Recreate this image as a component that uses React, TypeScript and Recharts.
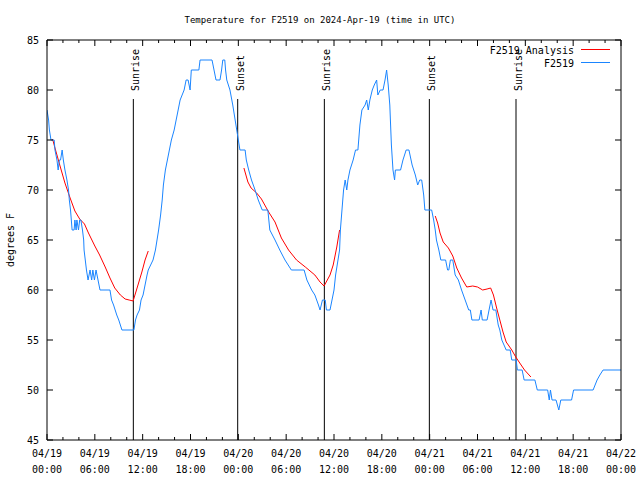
import { Legend, Line, LineChart, ReferenceLine, XAxis, YAxis } from "recharts";

// hours since 2024-04-19 00:00 UTC
const stationHours = [
  0, 0.2, 0.3, 0.5, 0.9, 1.0, 1.25, 1.4, 1.55, 1.7, 1.9, 2.05, 2.25, 2.5, 2.7, 2.8, 2.95, 3.05, 3.15, 3.4,
  3.5, 3.65, 3.75, 3.95, 4.1, 4.25, 4.45, 4.6, 4.65, 4.8, 4.95, 5.15, 5.4, 5.6, 5.75, 5.95, 6.15, 6.4, 6.65, 7.9,
  8.1, 8.35, 8.55, 8.75, 9.0, 9.2, 9.4, 10.9, 11.1, 11.3, 11.6, 11.8, 12.05, 12.3, 12.55, 12.7, 13.0, 13.3, 13.6, 13.8,
  14.0, 14.25, 14.45, 14.6, 14.85, 15.1, 15.35, 15.6, 15.95, 16.2, 16.45, 16.7, 16.95, 17.2, 17.45, 17.7, 17.95, 18.1, 19.05, 19.2,
  20.7, 20.95, 21.2, 21.7, 21.9, 22.05, 22.3, 22.4, 22.55, 22.95, 23.3, 23.6, 23.8, 24.0, 24.2, 24.85, 25.0, 25.3, 25.65, 26.1,
  26.5, 27.0, 27.7, 27.95, 28.6, 29.2, 29.85, 30.65, 32.25, 32.6, 33.2, 33.6, 34.05, 34.25, 34.55, 34.9, 35.05, 35.5, 35.75, 36.0,
  36.2, 36.5, 36.7, 36.8, 37.0, 37.2, 37.4, 37.6, 37.75, 38.0, 38.4, 38.7, 39.0, 39.25, 39.5, 39.9, 40.1, 40.3, 40.5, 40.8,
  41.05, 41.35, 41.5, 41.8, 42.15, 42.4, 42.6, 42.8, 43.0, 43.2, 43.4, 43.6, 43.7, 44.35, 44.65, 45.05, 45.4, 45.8, 46.2, 46.5,
  46.75, 47.0, 47.25, 47.4, 48.25, 48.5, 48.7, 48.85, 49.15, 49.4, 50.0, 50.25, 50.4, 50.6, 50.9, 51.2, 51.6, 52.0, 52.45, 52.9,
  53.1, 53.3, 54.2, 54.45, 54.6, 55.2, 55.45, 55.7, 55.95, 56.3, 56.6, 56.8, 57.05, 57.6, 58.1, 58.3, 58.85, 59.0, 59.6, 59.85,
  61.2, 61.5, 62.8, 63.0, 63.15, 63.35, 63.85, 64.2, 64.45, 65.8, 66.05, 68.5, 68.75, 69.0, 69.35, 69.75, 72,
];
const stationTemps = [
  78, 77, 76, 75, 75, 74, 73, 72, 73, 73, 74, 73, 72, 71, 70, 69, 68, 67, 66, 66,
  67, 66, 67, 66, 67, 67, 66, 65, 64, 63, 62, 61, 62, 61, 62, 61, 62, 61, 60, 60,
  59, 58.5, 58, 57.5, 57, 56.5, 56, 56, 57, 57.5, 58, 59, 59.5, 60.5, 61.5, 62, 62.5, 63, 64, 65,
  66, 67.5, 69, 70.5, 72, 73, 74, 75, 76, 77, 78, 79, 79.5, 80, 81, 81, 80, 82, 82, 83,
  83, 82, 81, 81, 82, 83, 83, 82, 81, 80, 78.5, 77, 76, 75, 74, 74, 73, 72, 71, 70,
  69, 68, 68, 66, 65, 64, 63, 62, 62, 61, 60, 59.5, 58.5, 58, 59, 59, 58, 58, 59, 60,
  61.5, 63, 64, 66, 68, 70, 71, 70, 71, 72, 73, 74, 74, 76.5, 78, 78.5, 79, 78, 79, 80,
  80.5, 81, 79.5, 80, 80, 81, 82, 80.5, 78.5, 74.5, 72, 71, 72, 72, 73, 74, 74, 72.5, 71.5, 70.5,
  71, 71, 69.5, 68, 68, 67, 66, 65, 64, 63, 63, 62, 62, 63, 63, 61.5, 61, 60, 59, 58,
  58, 57, 57, 58, 57, 57, 58, 59, 58, 58, 56.5, 56, 55, 54, 54, 53, 53, 52, 52, 51,
  51, 50, 50, 49, 50, 49, 49, 48, 49, 49, 50, 50, 50.5, 51, 51.5, 52, 52,
];

// analysis runs, null marks a gap between runs
const analysisHours = [
  0.7, 1.0, 1.6, 2.25, 2.9, 3.5, 4.1, 4.7, 5.2, 6.0, 6.6, 7.3, 7.9, 8.5, 9.2, 9.8, 10.3, 10.8, 11.3, 11.9, 12.3, 12.7,
  18.0,
  24.7, 25.2, 25.6, 26.3, 26.9, 27.8, 28.6, 29.4, 30.3, 31.3, 32.4, 33.6, 34.25, 34.75, 35.5, 35.9, 36.35, 36.7,
  42.0,
  48.7, 49.0, 49.3, 49.7, 50.35, 50.9, 51.4, 52.0, 52.65, 53.4, 54.0, 54.65, 55.2, 55.65, 56.0, 56.4, 56.8, 57.2, 57.6,
  58.3, 58.8, 59.3, 59.9, 60.7,
];
const analysisTemps = [
  75.1, 74.2, 72.5, 70.7, 69.2, 67.9, 67.1, 66.6, 65.7, 64.4, 63.5, 62.3, 61.2, 60.2, 59.5, 59.1, 59.0, 58.9, 60.2, 61.8, 63.0, 63.9,
  null,
  72.2, 70.8, 70.2, 69.7, 69.1, 67.8, 66.8, 65.2, 64.0, 63.0, 62.3, 61.5, 60.8, 60.4, 61.5, 62.5, 64.3, 66.0,
  null,
  67.4, 66.7, 65.7, 64.8, 64.2, 63.4, 62.2, 61.2, 60.3, 60.4, 60.3, 60.0, 60.1, 60.2, 59.5, 58.2, 57.0, 55.8, 54.8,
  54.0, 53.3, 52.7, 52.0, 51.3,
];

const sunHours = [10.83, 23.92, 34.79, 47.96, 58.83];
const sunLabels = ["Sunrise", "Sunset", "Sunrise", "Sunset", "Sunrise"];

const xTicks = [
  0, 2, 4, 6, 8, 10, 12, 14, 16, 18, 20, 22, 24, 26, 28, 30, 32, 34, 36, 38, 40, 42, 44, 46, 48, 50, 52, 54, 56, 58, 60,
  62, 64, 66, 68, 70, 72,
];
const yTicks = [45, 50, 55, 60, 65, 70, 75, 80, 85];

const legendOrder = ["F2519 Analysis", "F2519"];

const stationData = stationHours.map((hour, i) => ({ hour, temp: stationTemps[i] }));
const analysisData = analysisHours.map((hour, i) => ({ hour, temp: analysisTemps[i] }));

const FONT = "'DejaVu Sans Mono', monospace";
const pad = (n: number) => String(n).padStart(2, "0");

function BottomTick({ x, y, payload }: any) {
  const h = payload.value;
  const major = h % 6 === 0;
  return (
    <g>
      <line x1={x} x2={x} y1={y} y2={y - (major ? 6 : 3)} stroke="#000" />
      {major && (
        <text x={x} y={y + 17} textAnchor="middle" fontSize={10} fontFamily={FONT} fill="#000">
          {`04/${19 + Math.floor(h / 24)}`}
        </text>
      )}
      {major && (
        <text x={x} y={y + 33} textAnchor="middle" fontSize={10} fontFamily={FONT} fill="#000">
          {`${pad(h % 24)}:00`}
        </text>
      )}
    </g>
  );
}

function TopTick({ x, y, payload }: any) {
  const major = payload.value % 6 === 0;
  return <line x1={x} x2={x} y1={y} y2={y + (major ? 6 : 3)} stroke="#000" />;
}

function LeftTick({ x, y, payload }: any) {
  return (
    <g>
      <line x1={x} x2={x + 6} y1={y} y2={y} stroke="#000" />
      <text x={x - 8} y={y} dy="0.35em" textAnchor="end" fontSize={10} fontFamily={FONT} fill="#000">
        {payload.value}
      </text>
    </g>
  );
}

function RightTick({ x, y }: any) {
  return <line x1={x} x2={x - 6} y1={y} y2={y} stroke="#000" />;
}

function SunLabel({ viewBox, text }: any) {
  return (
    <text
      transform={`translate(${viewBox.x + 6},${viewBox.y - 8}) rotate(-90)`}
      fontSize={10}
      fontFamily={FONT}
      fill="#000"
    >
      {text}
    </text>
  );
}

function LegendBox({ payload }: any) {
  const items = [...(payload || [])].sort(
    (a: any, b: any) => legendOrder.indexOf(a.value) - legendOrder.indexOf(b.value),
  );
  return (
    <svg width={180} height={32}>
      {items.map((p: any, i: number) => (
        <g key={p.value}>
          <text x={134} y={14 + i * 12.5} textAnchor="end" fontSize={10} fontFamily={FONT} fill="#000">
            {p.value}
          </text>
          <line x1={141} x2={170} y1={9.5 + i * 13} y2={9.5 + i * 13} stroke={p.color} />
        </g>
      ))}
    </svg>
  );
}

export default function App() {
  return (
    <div style={{ position: "absolute", left: 0, top: 0, width: 640, height: 480, background: "#fff" }}>
      <div
        style={{
          position: "absolute",
          top: 15,
          width: 640,
          textAlign: "center",
          fontFamily: FONT,
          fontSize: 9,
          lineHeight: "11px",
          color: "#000",
        }}
      >
        Temperature for F2519 on 2024-Apr-19 (time in UTC)
      </div>
      <LineChart width={640} height={480} margin={{ top: 0, right: 0, bottom: 0, left: 0 }}>
        <XAxis
          xAxisId="b"
          dataKey="hour"
          type="number"
          domain={[0, 72]}
          ticks={xTicks}
          interval={0}
          height={40}
          axisLine={{ stroke: "#000" }}
          tickLine={false}
          tickSize={0}
          tickMargin={0}
          tick={(p: any) => <BottomTick {...p} />}
          allowDataOverflow
        />
        <XAxis
          xAxisId="t"
          orientation="top"
          dataKey="hour"
          type="number"
          domain={[0, 72]}
          ticks={xTicks}
          interval={0}
          height={40}
          axisLine={{ stroke: "#000" }}
          tickLine={false}
          tickSize={0}
          tickMargin={0}
          tick={(p: any) => <TopTick {...p} />}
          allowDataOverflow
        />
        <YAxis
          yAxisId="l"
          type="number"
          domain={[45, 85]}
          ticks={yTicks}
          interval={0}
          width={47}
          axisLine={{ stroke: "#000" }}
          tickLine={false}
          tickSize={0}
          tickMargin={0}
          tick={(p: any) => <LeftTick {...p} />}
          allowDataOverflow
          label={{
            value: "degrees F",
            angle: -90,
            position: "insideLeft",
            offset: 10,
            style: { textAnchor: "middle", fontFamily: FONT, fontSize: 10, fill: "#000" },
          }}
        />
        <YAxis
          yAxisId="r"
          orientation="right"
          type="number"
          domain={[45, 85]}
          ticks={yTicks}
          interval={0}
          width={19}
          axisLine={{ stroke: "#000" }}
          tickLine={false}
          tickSize={0}
          tickMargin={0}
          tick={(p: any) => <RightTick {...p} />}
          allowDataOverflow
        />
        {sunHours.map((h, i) => (
          <ReferenceLine
            key={i}
            xAxisId="b"
            yAxisId="l"
            segment={[
              { x: h, y: 79.1 },
              { x: h, y: 45 },
            ]}
            stroke="#000"
            strokeWidth={1}
            label={(p: any) => <SunLabel {...p} text={sunLabels[i]} />}
          />
        ))}
        <Line
          xAxisId="b"
          yAxisId="l"
          data={analysisData}
          dataKey="temp"
          name="F2519 Analysis"
          type="linear"
          stroke="#ff0000"
          strokeWidth={1}
          dot={false}
          isAnimationActive={false}
        />
        <Line
          xAxisId="b"
          yAxisId="l"
          data={stationData}
          dataKey="temp"
          name="F2519"
          type="linear"
          stroke="#1a85ff"
          strokeWidth={1}
          dot={false}
          isAnimationActive={false}
        />
        <Legend
          layout="horizontal"
          verticalAlign="middle"
          align="center"
          width={180}
          content={(p: any) => <LegendBox {...p} />}
          wrapperStyle={{ top: 40, left: 440, width: 180, height: 32 }}
        />
      </LineChart>
    </div>
  );
}
